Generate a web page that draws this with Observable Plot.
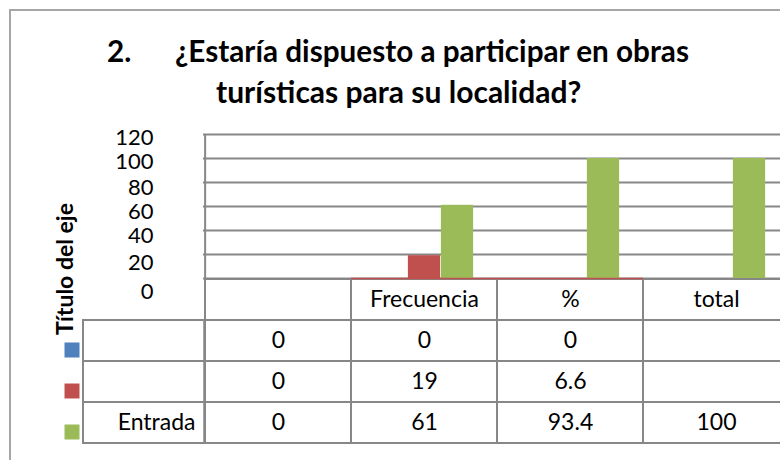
<!DOCTYPE html>
<html><head><meta charset="utf-8">
<script src="https://cdn.jsdelivr.net/npm/d3@7"></script>
<script src="https://cdn.jsdelivr.net/npm/@observablehq/plot@0.6"></script>
<style>
body{margin:0;background:#fff;}
#wrap{position:relative;width:780px;height:460px;overflow:hidden;background:#fff;font-family:Lato,"Open Sans",sans-serif;}
#frame{position:absolute;left:9px;top:9px;width:800px;height:480px;border:2px solid #a6a6a6;box-sizing:border-box;}
.t{position:absolute;font-weight:700;font-size:29.7px;color:#000;white-space:nowrap;line-height:1;}
#ytitle{position:absolute;left:64px;top:269px;transform:translate(-50%,-50%) rotate(-90deg);font-weight:700;font-size:23px;white-space:nowrap;line-height:1;color:#000;}
#chart,#table{position:absolute;left:0;}
#chart{top:0;}
#table{top:278px;}
</style></head><body>
<div id="wrap">
 <div id="frame"></div>
 <div class="t" style="left:107px;top:36px">2.</div>
 <div class="t" style="left:175px;top:36px">¿Estaría dispuesto a participar en obras</div>
 <div class="t" style="left:216px;top:76px;font-size:30px">turísticas para su localidad?</div>
 <div id="table"></div>
 <div id="chart"></div>
 <div id="ytitle"></div>
</div>
<script>
// ---- data ----
const categories = ["", "Frecuencia", "%", "total"];
const seriesLabels = ["", "", "Entrada"];
const seriesColors = ["#4f81bd", "#c0504d", "#9bbb59"];
// values printed in the data table
const tableBlue = [0, 0, 0, null];
const tableRed = [0, 19, 6.6, null];
const tableGreen = [0, 61, 93.4, 100];
// bar heights as drawn in the plot area
const barBlue = [0, 0, 0, null];
const barRed = [0, 19, 0, null];
const barGreen = [0, 61, 100, 100];
const yTicks = [0, 20, 40, 60, 80, 100, 120];
const yTitle = "Título del eje";

document.getElementById("ytitle").textContent = yTitle;

// ---- derived tables ----
const rowKeys = ["s0", "s1", "s2"];
const tableSeries = [tableBlue, tableRed, tableGreen];
const barSeries = [barBlue, barRed, barGreen];
const tableCells = [];
tableSeries.forEach((vals, s) => categories.forEach((c, i) =>
  tableCells.push({cat: c, row: rowKeys[s], value: vals[i]})));
const bars = barSeries.map(vals => categories.map((c, i) => ({cat: c, value: vals[i]})).filter(d => d.value != null));
const redLine = categories.filter((c, i) => tableRed[i] != null && tableRed[i] !== 0);

const W = 780, bandW = (790 - 203) / categories.length, barW = 33;
const gray = "#878787";
const tickAxis = (ticks, dy) => Plot.axisY(ticks, {tickSize: 0, tickPadding: 50, fontSize: 22, dy, fill: "#000", label: null});

// ---- chart ----
const chart = Plot.plot({
  width: W, height: 460,
  marginLeft: 203, marginRight: -10, marginTop: 134, marginBottom: 182,
  style: {background: "transparent", fontFamily: "Lato, 'Open Sans', sans-serif", overflow: "visible"},
  x: {domain: categories, range: [203, 790], padding: 0, axis: null, label: null},
  y: {domain: [0, 120], axis: null, label: null},
  marks: [
    Plot.gridY(yTicks, {stroke: gray, strokeOpacity: 1, strokeWidth: 2}),
    Plot.ruleX([categories[0]], {x: d => d, dx: -bandW / 2, y1: 0, y2: 120, stroke: gray, strokeWidth: 2}),
    ...bars.map((data, k) => Plot.barY(data, {
      x: "cat", y: "value", fill: seriesColors[k],
      insetLeft: (bandW - barW) / 2 + (k - 1) * barW,
      insetRight: (bandW - barW) / 2 - (k - 1) * barW
    })),
    Plot.tickY(redLine, {x: d => d, y: () => 0, stroke: seriesColors[1], strokeWidth: 1.5}),
    tickAxis(yTicks.filter(v => v >= 100), 3),
    tickAxis(yTicks.filter(v => v >= 40 && v < 100), 5),
    tickAxis(yTicks.filter(v => v === 20), 8),
    tickAxis(yTicks.filter(v => v === 0), 13)
  ]
});
document.getElementById("chart").appendChild(chart);

// ---- data table ----
const table = Plot.plot({
  width: W, height: 170,
  marginLeft: 203, marginRight: -10, marginTop: 0, marginBottom: 4,
  style: {background: "transparent", fontFamily: "Lato, 'Open Sans', sans-serif", overflow: "visible"},
  x: {domain: categories, range: [203, 790], padding: 0, axis: null, label: null},
  y: {domain: ["h", ...rowKeys], range: [0, 166], padding: 0, axis: null, label: null},
  marks: [
    Plot.cell(categories, {x: d => d, y: () => "h", stroke: gray, strokeWidth: 2, fill: "none"}),
    Plot.cell(tableCells, {x: "cat", y: "row", stroke: gray, strokeWidth: 2, fill: "none"}),
    Plot.cell(rowKeys, {x: () => categories[0], y: d => d, insetLeft: -122, insetRight: bandW, stroke: gray, strokeWidth: 2, fill: "none"}),
    Plot.text(categories, {x: d => d, y: () => "h", text: d => d, fontSize: 23, fill: "#000"}),
    Plot.text(tableCells, {x: "cat", y: "row", text: d => d.value == null ? "" : String(d.value), fontSize: 23, fill: "#000"}),
    Plot.text(rowKeys, {y: d => d, text: (d, i) => seriesLabels[i], frameAnchor: "left", textAnchor: "end", dx: -8, fontSize: 23, fill: "#000"}),
    Plot.dot(rowKeys, {y: d => d, frameAnchor: "left", dx: 71.5 - 203, dy: 9, symbol: "square", r: 8.46, fill: (d, i) => seriesColors[i], stroke: null})
  ]
});
document.getElementById("table").appendChild(table);
</script>
</body></html>
